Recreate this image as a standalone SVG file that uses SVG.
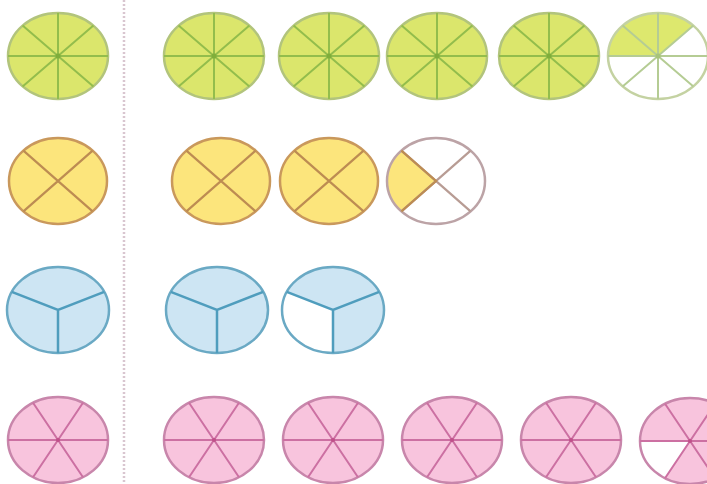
<svg xmlns="http://www.w3.org/2000/svg" xmlns:xlink="http://www.w3.org/1999/xlink" width="707" height="484" viewBox="0 0 707 484">
<style>
.g-fill{fill:#dbe66c;stroke:#b2c47c;stroke-width:2.5}
.g-line{fill:none;stroke:#93bd4c;stroke-width:2}
.g-pfill{fill:#dde86e;stroke:none}
.g-pout{fill:none;stroke:#c4d2a2;stroke-width:2.5}
.g-pline{fill:none;stroke:#b5cc94;stroke-width:2}
.y-fill{fill:#fce57c;stroke:#c9985c;stroke-width:2.5}
.y-line{fill:none;stroke:#bd8c52;stroke-width:2.2}
.y-pout{fill:none;stroke:#bca3a6;stroke-width:2.5}
.y-pline{fill:none;stroke:#b89c94;stroke-width:2.2}
.b-fill{fill:#cde5f3;stroke:#6aa9c4;stroke-width:2.5}
.b-line{fill:none;stroke:#4f9dbd;stroke-width:2.5}
.p-fill{fill:#f8c4dd;stroke:#c886ab;stroke-width:2.5}
.p-line{fill:none;stroke:#cc70a2;stroke-width:2}
.white{fill:#ffffff;stroke:none}
</style>
<defs>
<g id="green">
<ellipse class="g-fill" cx="0" cy="0" rx="50" ry="43"/>
<path class="g-line" d="M-50,0H50M0,-43V43M-35.4,-30.4L35.4,30.4M-35.4,30.4L35.4,-30.4"/>
<circle cx="0" cy="0" r="2.5" fill="#7fae3a"/>
</g>
<g id="yellow">
<ellipse class="y-fill" cx="0" cy="0" rx="49" ry="43"/>
<path class="y-line" d="M-34.6,-30.4L34.6,30.4M-34.6,30.4L34.6,-30.4"/>
</g>
<g id="blue">
<ellipse class="b-fill" cx="0" cy="0" rx="51" ry="43"/>
<path class="b-line" d="M-46.2,-18.2L0,0L46.2,-18.2M0,0V43"/>
</g>
<g id="pink">
<ellipse class="p-fill" cx="0" cy="0" rx="50" ry="43"/>
<path class="p-line" d="M-50,0H50M-25,-37.2L25,37.2M-25,37.2L25,-37.2"/>
<circle cx="0" cy="0" r="2" fill="#c0508a"/>
</g>
</defs>

<g id="divider">
<line x1="124" y1="0" x2="124" y2="484" stroke="#d9c6d0" stroke-width="2.5" stroke-dasharray="2 2"/>
</g>

<g id="green-ref"><use xlink:href="#green" transform="translate(58,56)"/></g>
<g id="green-1"><use xlink:href="#green" transform="translate(214,56)"/></g>
<g id="green-2"><use xlink:href="#green" transform="translate(329,56)"/></g>
<g id="green-3"><use xlink:href="#green" transform="translate(437,56)"/></g>
<g id="green-4"><use xlink:href="#green" transform="translate(549,56)"/></g>
<g id="green-5">
<ellipse class="white" cx="658" cy="56" rx="50" ry="43"/>
<path class="g-pfill" d="M658,56L608,56A50,43 0 0 1 693.4,25.6Z"/>
<ellipse class="g-pout" cx="658" cy="56" rx="50" ry="43"/>
<path class="g-pline" d="M608,56H708M658,13V99M622.6,25.6L693.4,86.4M622.6,86.4L693.4,25.6"/>
<circle cx="658" cy="56" r="2.5" fill="#a8c47a"/>
</g>

<g id="yellow-ref"><use xlink:href="#yellow" transform="translate(58,181)"/></g>
<g id="yellow-1"><use xlink:href="#yellow" transform="translate(221,181)"/></g>
<g id="yellow-2"><use xlink:href="#yellow" transform="translate(329,181)"/></g>
<g id="yellow-3">
<ellipse class="white" cx="436" cy="181" rx="49" ry="43"/>
<path d="M436,181L401.4,211.4A49,43 0 0 1 401.4,150.6Z" fill="#fce57c"/>
<ellipse class="y-pout" cx="436" cy="181" rx="49" ry="43"/>
<path class="y-pline" d="M401.4,150.6L470.6,211.4M401.4,211.4L470.6,150.6"/>
<path class="y-line" d="M401.4,150.6L436,181L401.4,211.4"/>
</g>

<g id="blue-ref"><use xlink:href="#blue" transform="translate(58,310)"/></g>
<g id="blue-1"><use xlink:href="#blue" transform="translate(217,310)"/></g>
<g id="blue-2">
<ellipse class="white" cx="333" cy="310" rx="51" ry="43"/>
<path d="M333,310L286.8,291.8A51,43 0 1 1 333,353Z" fill="#cde5f3"/>
<ellipse cx="333" cy="310" rx="51" ry="43" fill="none" stroke="#6aa9c4" stroke-width="2.5"/>
<path class="b-line" d="M286.8,291.8L333,310L379.2,291.8M333,310V353"/>
</g>

<g id="pink-ref"><use xlink:href="#pink" transform="translate(58,440)"/></g>
<g id="pink-1"><use xlink:href="#pink" transform="translate(214,440)"/></g>
<g id="pink-2"><use xlink:href="#pink" transform="translate(333,440)"/></g>
<g id="pink-3"><use xlink:href="#pink" transform="translate(452,440)"/></g>
<g id="pink-4"><use xlink:href="#pink" transform="translate(571,440)"/></g>
<g id="pink-5">
<ellipse class="white" cx="690" cy="441" rx="50" ry="43"/>
<path d="M690,441L640,441A50,43 0 1 1 665,478.2Z" fill="#f8c4dd"/>
<ellipse cx="690" cy="441" rx="50" ry="43" fill="none" stroke="#c886ab" stroke-width="2.5"/>
<path class="p-line" d="M640,441H740M665,403.8L715,478.2M665,478.2L715,403.8"/>
<circle cx="690" cy="441" r="2" fill="#c0508a"/>
</g>
</svg>
